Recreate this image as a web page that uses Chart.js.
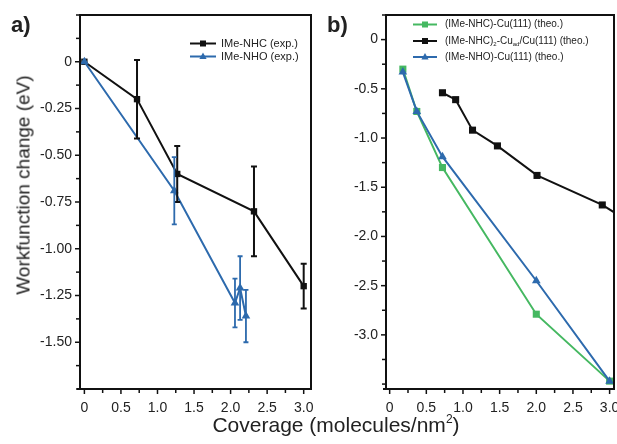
<!DOCTYPE html>
<html>
<head>
<meta charset="utf-8">
<script src="https://cdn.jsdelivr.net/npm/chart.js@4/dist/chart.umd.min.js"></script>
<style>
  html, body { margin:0; padding:0; background:#fff; overflow:hidden; width:617px; height:444px; }
  body { position:relative; font-family:"Liberation Sans", Arial, sans-serif; color:#222; }
  #c1 { position:absolute; left:0; top:0; }
  #c2 { position:absolute; left:310px; top:0; }
  .lbl { position:absolute; font-weight:bold; font-size:22px; line-height:1; color:#222; }
  #ytitle { position:absolute; left:23px; top:185px; transform:translate(-50%,-50%) rotate(-90deg); white-space:nowrap; font-size:19px; line-height:1; color:#222; }
  #xtitle { position:absolute; left:336px; top:424px; transform:translate(-50%,-50%); white-space:nowrap; font-size:21px; line-height:1; color:#222; }
  #xtitle sup { font-size:12px; vertical-align:9px; line-height:0; }
</style>
</head>
<body>
<canvas id="c1" width="320" height="444"></canvas>
<canvas id="c2" width="310" height="444"></canvas>
<div class="lbl" style="left:11px;top:14px;">a)</div>
<div class="lbl" style="left:327px;top:14px;">b)</div>
<div id="ytitle">Workfunction change (eV)</div>
<div id="xtitle">Coverage (molecules/nm<sup>2</sup>)</div>
<script>
// ---- Data: panel a) experimental ----
const xNHC = [0, 0.72, 1.27, 2.32, 3.0];
const yNHC = [0, -0.2, -0.6, -0.8, -1.2];
const eNHC = [0, 0.21, 0.15, 0.24, 0.12];
const xNHO = [0, 1.23, 2.06, 2.13, 2.21];
const yNHO = [0, -0.69, -1.29, -1.21, -1.36];
const eNHO = [0, 0.18, 0.13, 0.17, 0.14];
// ---- Data: panel b) theory ----
const xTheoNHC = [0.18, 0.37, 0.72, 2.0, 3.0];
const yTheoNHC = [-0.3, -0.73, -1.3, -2.79, -3.47];
const xTheoAd = [0.72, 0.9, 1.13, 1.47, 2.01, 2.9, 3.2];
const yTheoAd = [-0.54, -0.61, -0.92, -1.08, -1.38, -1.68, -1.82];
const xTheoNHO = [0.18, 0.37, 0.72, 2.0, 3.0];
const yTheoNHO = [-0.33, -0.73, -1.19, -2.45, -3.47];
// ---- Tick labels ----
const xTickLabels = ['0', '0.5', '1.0', '1.5', '2.0', '2.5', '3.0'];
const yTickLabelsA = ['0', '-0.25', '-0.50', '-0.75', '-1.00', '-1.25', '-1.50'];
const yTickLabelsB = ['0', '-0.5', '-1.0', '-1.5', '-2.0', '-2.5', '-3.0'];

const BLACK = '#111111';
const BLUE = '#2d6aad';
const GREEN = '#45b861';
const FONT = '"Liberation Sans", Arial, sans-serif';

function pts(xs, ys) { return xs.map((x, i) => ({ x: x, y: ys[i] })); }
function near(a, b) { return Math.abs(a - b) < 1e-6; }
function labelFrom(list) {
  return function (v) {
    for (const l of list) { if (near(parseFloat(l), v)) return l; }
    return '';
  };
}

// Draws the frame box, outward tick marks (major/minor)
const frameTicks = {
  id: 'frameTicks',
  afterDraw(chart) {
    const ctx = chart.ctx, a = chart.chartArea;
    ctx.save();
    ctx.strokeStyle = BLACK;
    ctx.lineWidth = 1.5;
    const xs = chart.scales.x, ys = chart.scales.y;
    xs.ticks.forEach(t => {
      const p = xs.getPixelForValue(t.value);
      const major = t.label !== '' && t.label != null;
      ctx.beginPath();
      ctx.moveTo(p, a.bottom);
      ctx.lineTo(p, a.bottom + (major ? 5 : 4));
      ctx.stroke();
    });
    ys.ticks.forEach(t => {
      const p = ys.getPixelForValue(t.value);
      const major = t.label !== '' && t.label != null;
      ctx.beginPath();
      ctx.moveTo(a.left, p);
      ctx.lineTo(a.left - (major ? 5 : 4), p);
      ctx.stroke();
    });
    ctx.lineWidth = 2;
    ctx.beginPath();
    ctx.moveTo(a.left - 3, a.bottom);
    ctx.lineTo(a.right, a.bottom);
    ctx.lineTo(a.right, a.top);
    ctx.lineTo(a.left, a.top);
    ctx.lineTo(a.left, a.bottom);
    ctx.stroke();
    ctx.restore();
  }
};

// Vertical error bars from the error arrays
const errorBars = {
  id: 'errorBars',
  afterDatasetsDraw(chart) {
    const ctx = chart.ctx;
    const xs = chart.scales.x, ys = chart.scales.y;
    chart.data.datasets.forEach(ds => {
      if (!ds.errors) return;
      ctx.save();
      ctx.strokeStyle = ds.borderColor;
      ctx.lineWidth = ds.errWidth || 2;
      ds.data.forEach((p, i) => {
        const e = ds.errors[i];
        if (!e) return;
        const px = xs.getPixelForValue(p.x);
        const top = ys.getPixelForValue(p.y + e);
        const bot = ys.getPixelForValue(p.y - e);
        const cw = ds.capHalf || 3;
        ctx.beginPath();
        ctx.moveTo(px, top); ctx.lineTo(px, bot);
        ctx.moveTo(px - cw, top); ctx.lineTo(px + cw, top);
        ctx.moveTo(px - cw, bot); ctx.lineTo(px + cw, bot);
        ctx.stroke();
      });
      ctx.restore();
    });
  }
};

// Custom legend (supports subscripts)
function drawMarker(ctx, style, x, y, color, r) {
  ctx.save();
  ctx.fillStyle = color;
  ctx.beginPath();
  if (style === 'rect') {
    ctx.rect(x - r, y - r, 2 * r, 2 * r);
  } else {
    ctx.moveTo(x, y - r * 1.1);
    ctx.lineTo(x + r, y + r * 0.7);
    ctx.lineTo(x - r, y + r * 0.7);
    ctx.closePath();
  }
  ctx.fill();
  ctx.restore();
}
const customLegend = {
  id: 'customLegend',
  afterDraw(chart, args, opts) {
    const ctx = chart.ctx;
    ctx.save();
    opts.items.forEach(it => {
      ctx.strokeStyle = it.color;
      ctx.lineWidth = 2;
      ctx.beginPath();
      ctx.moveTo(opts.x1, it.y); ctx.lineTo(opts.x2, it.y);
      ctx.stroke();
      drawMarker(ctx, it.style, (opts.x1 + opts.x2) / 2, it.y, it.color, it.style === 'rect' ? 3 : 3.6);
      ctx.fillStyle = '#222';
      ctx.textBaseline = 'middle';
      let x = opts.tx;
      it.parts.forEach(p => {
        const sub = p.sub;
        ctx.font = (sub ? opts.size * 0.6 : opts.size) + 'px ' + FONT;
        ctx.fillText(p.t, x, it.y + (sub ? opts.size * 0.3 : 0));
        x += ctx.measureText(p.t).width;
      });
    });
    ctx.restore();
  }
};

const tickFont = { family: FONT, size: 14 };

function makeScales(cfg) {
  return {
    x: {
      type: 'linear', min: cfg.xmin, max: cfg.xmax,
      afterFit(s) { s.height = 55; s.paddingLeft = 0; s.paddingRight = 0; },
      grid: { display: false, drawTicks: false },
      border: { display: false },
      ticks: {
        stepSize: 0.25, autoSkip: false, includeBounds: false, maxRotation: 0,
        padding: 11, color: '#222', font: tickFont,
        callback: labelFrom(xTickLabels)
      }
    },
    y: {
      type: 'linear', min: cfg.ymin, max: cfg.ymax,
      afterFit(s) { s.width = cfg.yw; s.paddingTop = 0; s.paddingBottom = 0; },
      grid: { display: false, drawTicks: false },
      border: { display: false },
      ticks: {
        stepSize: cfg.ystep, autoSkip: false, includeBounds: false,
        padding: 8, color: '#222', font: tickFont,
        callback: labelFrom(cfg.ylabels)
      }
    }
  };
}

const common = {
  responsive: false, animation: false, devicePixelRatio: 1,
  plugins: { legend: { display: false }, tooltip: { enabled: false } }
};

new Chart(document.getElementById('c1'), {
  type: 'scatter',
  data: {
    datasets: [
      { label: 'IMe-NHC (exp.)', data: pts(xNHC, yNHC), errors: eNHC, errWidth: 2, capHalf: 3,
        showLine: true, borderColor: BLACK, backgroundColor: BLACK, borderWidth: 2,
        pointStyle: 'rect', pointRadius: 4.5, pointBorderWidth: 0, clip: false, order: 2 },
      { label: 'IMe-NHO (exp.)', data: pts(xNHO, yNHO), errors: eNHO, errWidth: 1.8, capHalf: 2.5,
        showLine: true, borderColor: BLUE, backgroundColor: BLUE, borderWidth: 2,
        pointStyle: 'triangle', pointRadius: 5, pointBorderWidth: 0, clip: false, order: 1 }
    ]
  },
  options: Object.assign({}, common, {
    layout: { padding: { left: 0, top: 15, right: 9, bottom: 0 } },
    scales: makeScales({ xmin: -0.06, xmax: 3.1, ymin: -1.75, ymax: 0.25, ystep: 0.125, yw: 80, ylabels: yTickLabelsA }),
    plugins: Object.assign({}, common.plugins, {
      customLegend: {
        x1: 190, x2: 216, tx: 221, size: 11,
        items: [
          { color: BLACK, style: 'rect', y: 43.5, parts: [{ t: 'IMe-NHC (exp.)' }] },
          { color: BLUE, style: 'tri', y: 56.5, parts: [{ t: 'IMe-NHO (exp.)' }] }
        ]
      }
    })
  }),
  plugins: [frameTicks, errorBars, customLegend]
});

new Chart(document.getElementById('c2'), {
  type: 'scatter',
  data: {
    datasets: [
      { label: '(IMe-NHC)-Cu(111) (theo.)', data: pts(xTheoNHC, yTheoNHC),
        showLine: true, borderColor: GREEN, backgroundColor: GREEN, borderWidth: 2,
        pointStyle: 'rect', pointRadius: 5, pointBorderWidth: 0, order: 3 },
      { label: '(IMe-NHC)2-Cuad/Cu(111) (theo.)', data: pts(xTheoAd, yTheoAd),
        showLine: true, borderColor: BLACK, backgroundColor: BLACK, borderWidth: 2,
        pointStyle: 'rect', pointRadius: 5, pointBorderWidth: 0, order: 2 },
      { label: '(IMe-NHO)-Cu(111) (theo.)', data: pts(xTheoNHO, yTheoNHO),
        showLine: true, borderColor: BLUE, backgroundColor: BLUE, borderWidth: 2,
        pointStyle: 'triangle', pointRadius: 5, pointBorderWidth: 0, order: 1 }
    ]
  },
  options: Object.assign({}, common, {
    layout: { padding: { left: 0, top: 15, right: 6, bottom: 0 } },
    scales: makeScales({ xmin: -0.05, xmax: 3.06, ymin: -3.55, ymax: 0.25, ystep: 0.25, yw: 76, ylabels: yTickLabelsB }),
    plugins: Object.assign({}, common.plugins, {
      customLegend: {
        x1: 103, x2: 127, tx: 135, size: 10,
        items: [
          { color: GREEN, style: 'rect', y: 24.5, parts: [{ t: '(IMe-NHC)-Cu(111) (theo.)' }] },
          { color: BLACK, style: 'rect', y: 41, parts: [{ t: '(IMe-NHC)' }, { t: '2', sub: true }, { t: '-Cu' }, { t: 'ad', sub: true }, { t: '/Cu(111) (theo.)' }] },
          { color: BLUE, style: 'tri', y: 57, parts: [{ t: '(IMe-NHO)-Cu(111) (theo.)' }] }
        ]
      }
    })
  }),
  plugins: [frameTicks, customLegend]
});
</script>
</body>
</html>
